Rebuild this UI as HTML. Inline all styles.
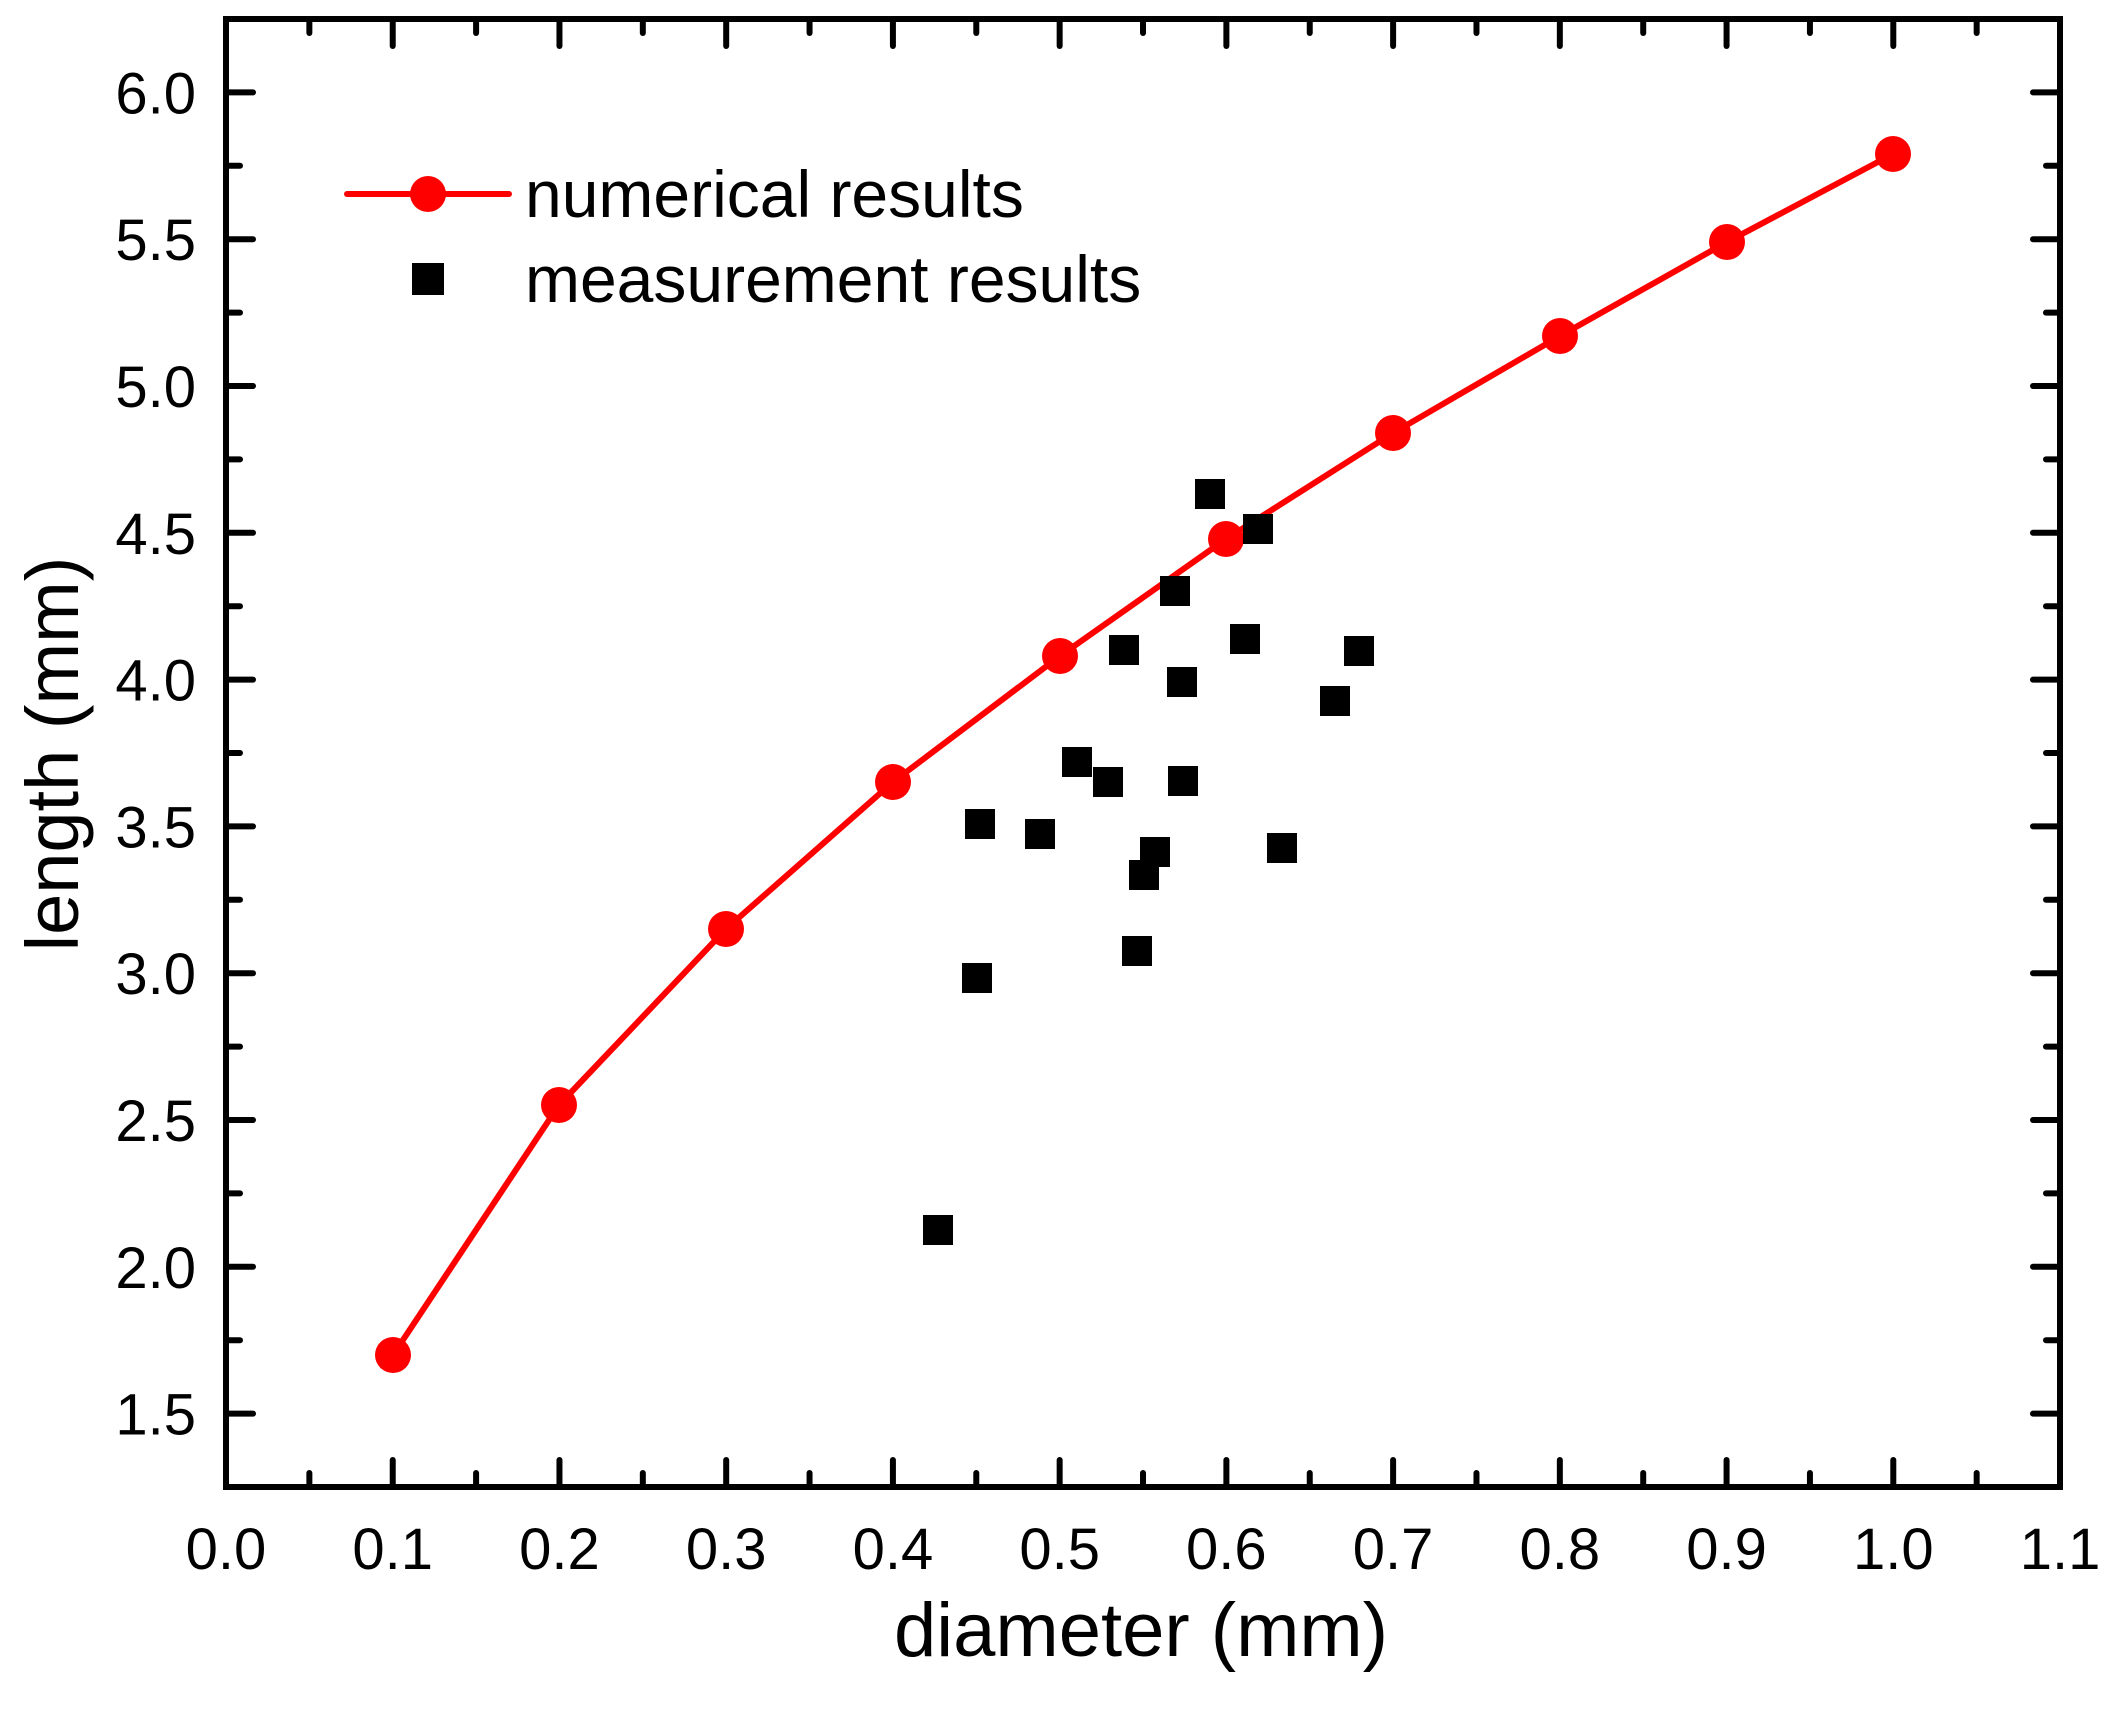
<!DOCTYPE html>
<html><head><meta charset="utf-8"><style>html,body{margin:0;padding:0;background:#fff}svg{display:block}</style></head>
<body>
<svg id="s" xmlns="http://www.w3.org/2000/svg" width="2110" height="1713" viewBox="0 0 2110 1713" font-family="Liberation Sans, Arial, sans-serif">
<rect width="2110" height="1713" fill="#fff"/>
<g id="ticks" stroke="#000" stroke-width="6" stroke-linecap="round"></g>
<rect x="226" y="19" width="1834" height="1468" fill="none" stroke="#000" stroke-width="6"/>
<g id="labels" font-size="58" fill="#000"></g>
<text x="1141" y="1656" font-size="76" text-anchor="middle">diameter (mm)</text>
<text transform="translate(78,754) rotate(-90)" font-size="74" text-anchor="middle">length (mm)</text>
<polyline fill="none" stroke="#f00" stroke-width="6" stroke-linejoin="round" points="393,1355 559,1105 726,929 893,782 1060,656 1226,539 1393,433 1560,336 1727,242 1893,154"/>
<g fill="#f00" id="circ"></g>
<g fill="#000" id="sq"></g>
<line x1="347" y1="194" x2="509" y2="194" stroke="#f00" stroke-width="6" stroke-linecap="round"/>
<circle cx="428" cy="194" r="18" fill="#f00"/>
<rect x="412" y="263" width="32" height="32" fill="#000"/>
<text x="525" y="217" font-size="66">numerical results</text>
<text x="525" y="302" font-size="66">measurement results</text>
</svg>
<script>
var NS="http://www.w3.org/2000/svg";
function el(p,t,a,txt){var e=document.createElementNS(NS,t);for(var k in a)e.setAttribute(k,a[k]);if(txt)e.textContent=txt;document.getElementById(p).appendChild(e);}
var L=226,R=2060,T=19,B=1487;
function X(v){return L+v*1667.3;} function Y(v){return B-(v-1.25)*293.6;}
for(var i=0;i<=22;i++){var v=i*0.05,x=X(v),len=(i%2==0)?27:14;
 if(i>0&&i<22){el("ticks","line",{x1:x,y1:B,x2:x,y2:B-len});el("ticks","line",{x1:x,y1:T,x2:x,y2:T+len});}
 if(i%2==0)el("labels","text",{x:x,y:1569,"text-anchor":"middle"},(i/20).toFixed(1));}
for(var j=0;j<=20;j++){var v=1.25+j*0.25,y=Y(v),maj=(j%2==1),len=maj?27:14;
 if(j>0&&j<20){el("ticks","line",{x1:L,y1:y,x2:L+len,y2:y});el("ticks","line",{x1:R,y1:y,x2:R-len,y2:y});}
 if(maj)el("labels","text",{x:196,y:y+21,"text-anchor":"end"},v.toFixed(1));}
[[393,1355],[559,1105],[726,929],[893,782],[1060,656],[1226,539],[1393,433],[1560,336],[1727,242],[1893,154]].forEach(function(p){el("circ","circle",{cx:p[0],cy:p[1],r:18});});
[[938,1230],[977,978],[980,824],[1040,834],[1077,762],[1108,782],[1137,951],[1144,875],[1155,852],[1124,650],[1175,591],[1182,682],[1183,781],[1210,494],[1258,529],[1245,639],[1282,848],[1335,701],[1359,651]].forEach(function(p){el("sq","rect",{x:p[0]-15,y:p[1]-15,width:30,height:30});});
</script>
</body></html>
